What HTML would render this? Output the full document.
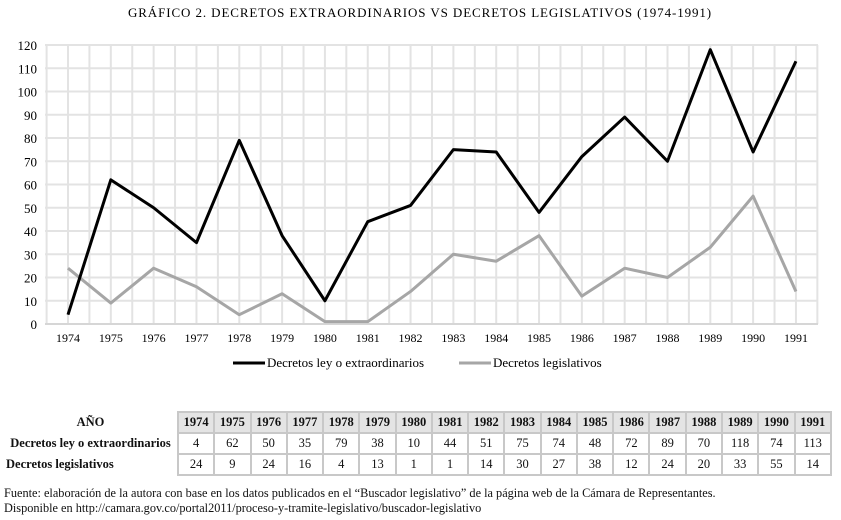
<!DOCTYPE html>
<html><head><meta charset="utf-8"><style>
body{margin:0;background:#fff;width:841px;height:520px;overflow:hidden;font-family:"Liberation Serif",serif;}
svg{position:absolute;left:0;top:0}
table{position:absolute;left:4px;top:411px;border-collapse:collapse;font-size:12.5px;table-layout:fixed;width:828px}
td{height:19px;text-align:center;padding:0;border:2px solid #c8c8c8;color:#111}
td.l{border:none;text-align:center;font-weight:bold}
tr.h td{background:#e4e4e4;font-weight:bold}
tr.h td.l{background:#fff}
td.b{font-weight:bold;text-align:left;padding-left:2px}
.f{position:absolute;left:4px;font-size:12.3px;color:#111}
</style></head><body>
<svg id="s" width="841" height="400" xmlns="http://www.w3.org/2000/svg" font-family="Liberation Serif, serif"></svg>
<table>
<colgroup><col style="width:174px"><col span="18"></colgroup>
<tr class="h"><td class="l">AÑO</td><td>1974</td><td>1975</td><td>1976</td><td>1977</td><td>1978</td><td>1979</td><td>1980</td><td>1981</td><td>1982</td><td>1983</td><td>1984</td><td>1985</td><td>1986</td><td>1987</td><td>1988</td><td>1989</td><td>1990</td><td>1991</td></tr>
<tr><td class="l">Decretos ley o extraordinarios</td><td>4</td><td>62</td><td>50</td><td>35</td><td>79</td><td>38</td><td>10</td><td>44</td><td>51</td><td>75</td><td>74</td><td>48</td><td>72</td><td>89</td><td>70</td><td>118</td><td>74</td><td>113</td></tr>
<tr><td class="l b">Decretos legislativos</td><td>24</td><td>9</td><td>24</td><td>16</td><td>4</td><td>13</td><td>1</td><td>1</td><td>14</td><td>30</td><td>27</td><td>38</td><td>12</td><td>24</td><td>20</td><td>33</td><td>55</td><td>14</td></tr>
</table>
<div class="f" style="top:486px">Fuente: elaboración de la autora con base en los datos publicados en el “Buscador legislativo” de la página web de la Cámara de Representantes.</div>
<div class="f" style="top:501px">Disponible en http://camara.gov.co/portal2011/proceso-y-tramite-legislativo/buscador-legislativo</div>
<script>
var s=document.getElementById('s'),h='';
var a=[4,62,50,35,79,38,10,44,51,75,74,48,72,89,70,118,74,113];
var b=[24,9,24,16,4,13,1,1,14,30,27,38,12,24,20,33,55,14];
function X(i){return 68+i*42.82}function Y(v){return 324-v*2.325}
h+='<text x="420" y="17" text-anchor="middle" font-size="13" letter-spacing="0.9">GRÁFICO 2. DECRETOS EXTRAORDINARIOS VS DECRETOS LEGISLATIVOS (1974-1991)</text>';
for(var k=0;k<=12;k++){var y=Y(k*10);h+='<line x1="45" x2="818" y1="'+y+'" y2="'+y+'" stroke="#e3e3e3" stroke-width="2"/>';
h+='<text x="37" y="'+(y+5)+'" text-anchor="end" font-size="13">'+(k*10)+'</text>';}
for(var k=0;k<=36;k++){var x=46.6+k*21.41;h+='<line x1="'+x+'" x2="'+x+'" y1="45" y2="324" stroke="#e3e3e3" stroke-width="2"/>';}
h+='<line x1="45" x2="818" y1="324" y2="324" stroke="#d6d6d6" stroke-width="2"/>';
for(var i=0;i<18;i++)h+='<text x="'+X(i)+'" y="342" text-anchor="middle" font-size="12">'+(1974+i)+'</text>';
function pl(d,c){var p=d.map(function(v,i){return X(i)+','+Y(v)}).join(' ');return '<polyline points="'+p+'" fill="none" stroke="'+c+'" stroke-width="3" stroke-linejoin="round"/>';}
h+=pl(b,'#a6a6a6')+pl(a,'#000');
h+='<line x1="233" x2="265" y1="363" y2="363" stroke="#000" stroke-width="3"/><text x="267" y="367" font-size="13">Decretos ley o extraordinarios</text>';
h+='<line x1="459" x2="491" y1="363" y2="363" stroke="#a6a6a6" stroke-width="3"/><text x="493" y="367" font-size="13">Decretos legislativos</text>';
s.innerHTML=h;
</script>
</body></html>
